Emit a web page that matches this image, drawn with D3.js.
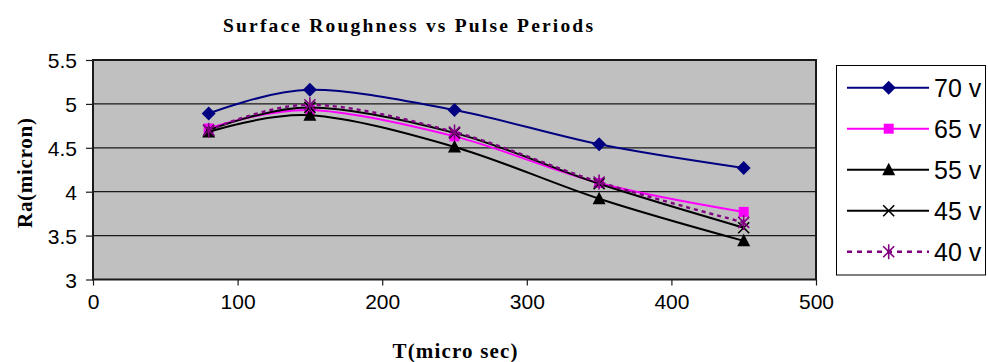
<!DOCTYPE html>
<html>
<head>
<meta charset="utf-8">
<script src="https://cdn.jsdelivr.net/npm/d3@7"></script>
<style>
  html, body { margin: 0; padding: 0; background: #fff; }
  svg { display: block; }
</style>
</head>
<body>
<svg id="chart" width="988" height="362"></svg>
<script>
// Pulse period (micro sec) on the x axis
const periods = [80, 150, 250, 350, 450];

// Surface roughness Ra (micron) per voltage
const ra70 = [4.89, 5.16, 4.93, 4.54, 4.27];
const ra65 = [4.72, 4.93, 4.63, 4.10, 3.77];
const ra55 = [4.68, 4.87, 4.51, 3.92, 3.44];
const ra45 = [4.70, 4.96, 4.67, 4.09, 3.59];
const ra40 = [4.70, 4.99, 4.68, 4.11, 3.65];

const seriesNames = ["70 v", "65 v", "55 v", "45 v", "40 v"];
const xTicks = [0, 100, 200, 300, 400, 500];
const yTicks = [3, 3.5, 4, 4.5, 5, 5.5];

const series = [
  { name: seriesNames[0], values: ra70, color: "#000080", marker: "diamond", dash: null },
  { name: seriesNames[1], values: ra65, color: "#FF00FF", marker: "square", dash: null },
  { name: seriesNames[2], values: ra55, color: "#000000", marker: "triangle", dash: null },
  { name: seriesNames[3], values: ra45, color: "#000000", marker: "cross", dash: null },
  { name: seriesNames[4], values: ra40, color: "#800080", marker: "star", dash: "4,4" }
];

const svg = d3.select("#chart");
const plot = { left: 93, right: 816, top: 60, bottom: 279.5 };

const x = d3.scaleLinear().domain([0, 500]).range([plot.left, plot.right]);
const y = d3.scaleLinear().domain([3, 5.5]).range([plot.bottom, plot.top]);

// Plot background
svg.append("rect")
  .attr("x", plot.left).attr("y", plot.top)
  .attr("width", plot.right - plot.left).attr("height", plot.bottom - plot.top)
  .attr("fill", "#C0C0C0");

// Horizontal gridlines
svg.append("g").selectAll("line")
  .data(yTicks.filter(v => v > 3 && v < 5.5))
  .join("line")
  .attr("x1", plot.left).attr("x2", plot.right)
  .attr("y1", d => y(d)).attr("y2", d => y(d))
  .attr("stroke", "#1a1a1a").attr("stroke-width", 1.2);

// Plot frame
svg.append("rect")
  .attr("x", plot.left).attr("y", plot.top)
  .attr("width", plot.right - plot.left).attr("height", plot.bottom - plot.top)
  .attr("fill", "none").attr("stroke", "#1a1a1a").attr("stroke-width", 2);

// Axes
const xAxis = d3.axisBottom(x).tickValues(xTicks).tickSize(6).tickPadding(9).tickFormat(d3.format("d"));
const yAxis = d3.axisLeft(y).tickValues(yTicks).tickSize(7).tickPadding(9).tickFormat(d => String(d));

const gx = svg.append("g").attr("transform", `translate(0,${plot.bottom})`).call(xAxis);
const gy = svg.append("g").attr("transform", `translate(${plot.left},0)`).call(yAxis);
[gx, gy].forEach(g => {
  g.select(".domain").remove();
  g.selectAll(".tick line").attr("stroke", "#1a1a1a").attr("stroke-width", 1.2);
  g.selectAll(".tick text")
    .attr("font-family", "Liberation Sans, Arial, sans-serif")
    .attr("font-size", 21).attr("fill", "#000");
});
gy.selectAll(".tick text").attr("dy", "0.36em");

// Titles
svg.append("text")
  .attr("x", 408).attr("y", 31.5).attr("text-anchor", "middle")
  .attr("font-family", "Liberation Serif, Times New Roman, serif")
  .attr("font-weight", "bold").attr("font-size", 19.5)
  .attr("textLength", 370).attr("lengthAdjust", "spacing")
  .text("Surface Roughness vs Pulse Periods");

svg.append("text")
  .attr("x", 455).attr("y", 358).attr("text-anchor", "middle")
  .attr("font-family", "Liberation Serif, Times New Roman, serif")
  .attr("font-weight", "bold").attr("font-size", 21)
  .attr("textLength", 125).attr("lengthAdjust", "spacing")
  .text("T(micro sec)");

svg.append("text")
  .attr("transform", "translate(32,173) rotate(-90)")
  .attr("text-anchor", "middle")
  .attr("font-family", "Liberation Serif, Times New Roman, serif")
  .attr("font-weight", "bold").attr("font-size", 21)
  .attr("textLength", 110).attr("lengthAdjust", "spacing")
  .text("Ra(micron)");

// Marker drawing
function drawMarker(g, type, color) {
  switch (type) {
    case "diamond":
      g.append("path").attr("d", "M0,-7L7,0L0,7L-7,0Z").attr("fill", color);
      break;
    case "square":
      g.append("rect").attr("x", -5).attr("y", -5).attr("width", 10).attr("height", 10).attr("fill", color);
      break;
    case "triangle":
      g.append("path").attr("d", "M0,-7L6.5,5.5L-6.5,5.5Z").attr("fill", color);
      break;
    case "cross":
      g.append("path").attr("d", "M-5.5,-5.5L5.5,5.5M-5.5,5.5L5.5,-5.5")
        .attr("stroke", color).attr("stroke-width", 1.6).attr("fill", "none");
      break;
    case "star":
      g.append("path").attr("d", "M-5.5,-5.5L5.5,5.5M-5.5,5.5L5.5,-5.5M0,-7.5L0,7.5")
        .attr("stroke", color).attr("stroke-width", 1.6).attr("fill", "none");
      break;
  }
}

const line = d3.line()
  .x((d, i) => x(periods[i]))
  .y(d => y(d))
  .curve(d3.curveCatmullRom.alpha(0));

// Series lines and markers
series.forEach(s => {
  const g = svg.append("g");
  g.append("path")
    .attr("d", line(s.values))
    .attr("fill", "none")
    .attr("stroke", s.color)
    .attr("stroke-width", s.dash ? 2.4 : 2)
    .attr("stroke-dasharray", s.dash);
  s.values.forEach((v, i) => {
    const m = g.append("g").attr("transform", `translate(${x(periods[i])},${y(v)})`);
    drawMarker(m, s.marker, s.color);
  });
});

// Legend
const legend = svg.append("g");
legend.append("rect")
  .attr("x", 836.5).attr("y", 65.5).attr("width", 149).attr("height", 209.5)
  .attr("fill", "#fff").attr("stroke", "#000").attr("stroke-width", 1);

const legendY = d3.scalePoint().domain(seriesNames).range([87.7, 251.7]);
series.forEach(s => {
  const cy = legendY(s.name);
  const row = legend.append("g");
  row.append("line")
    .attr("x1", 847).attr("x2", 929).attr("y1", cy).attr("y2", cy)
    .attr("stroke", s.color).attr("stroke-width", s.dash ? 2.6 : 2)
    .attr("stroke-dasharray", s.dash ? "5,5" : null);
  const m = row.append("g").attr("transform", `translate(888.7,${cy})`);
  drawMarker(m, s.marker, s.color);
  row.append("text")
    .attr("x", 934).attr("y", cy).attr("dy", "0.36em")
    .attr("font-family", "Liberation Sans, Arial, sans-serif")
    .attr("font-size", 25).attr("fill", "#000")
    .text(s.name);
});
</script>
</body>
</html>
